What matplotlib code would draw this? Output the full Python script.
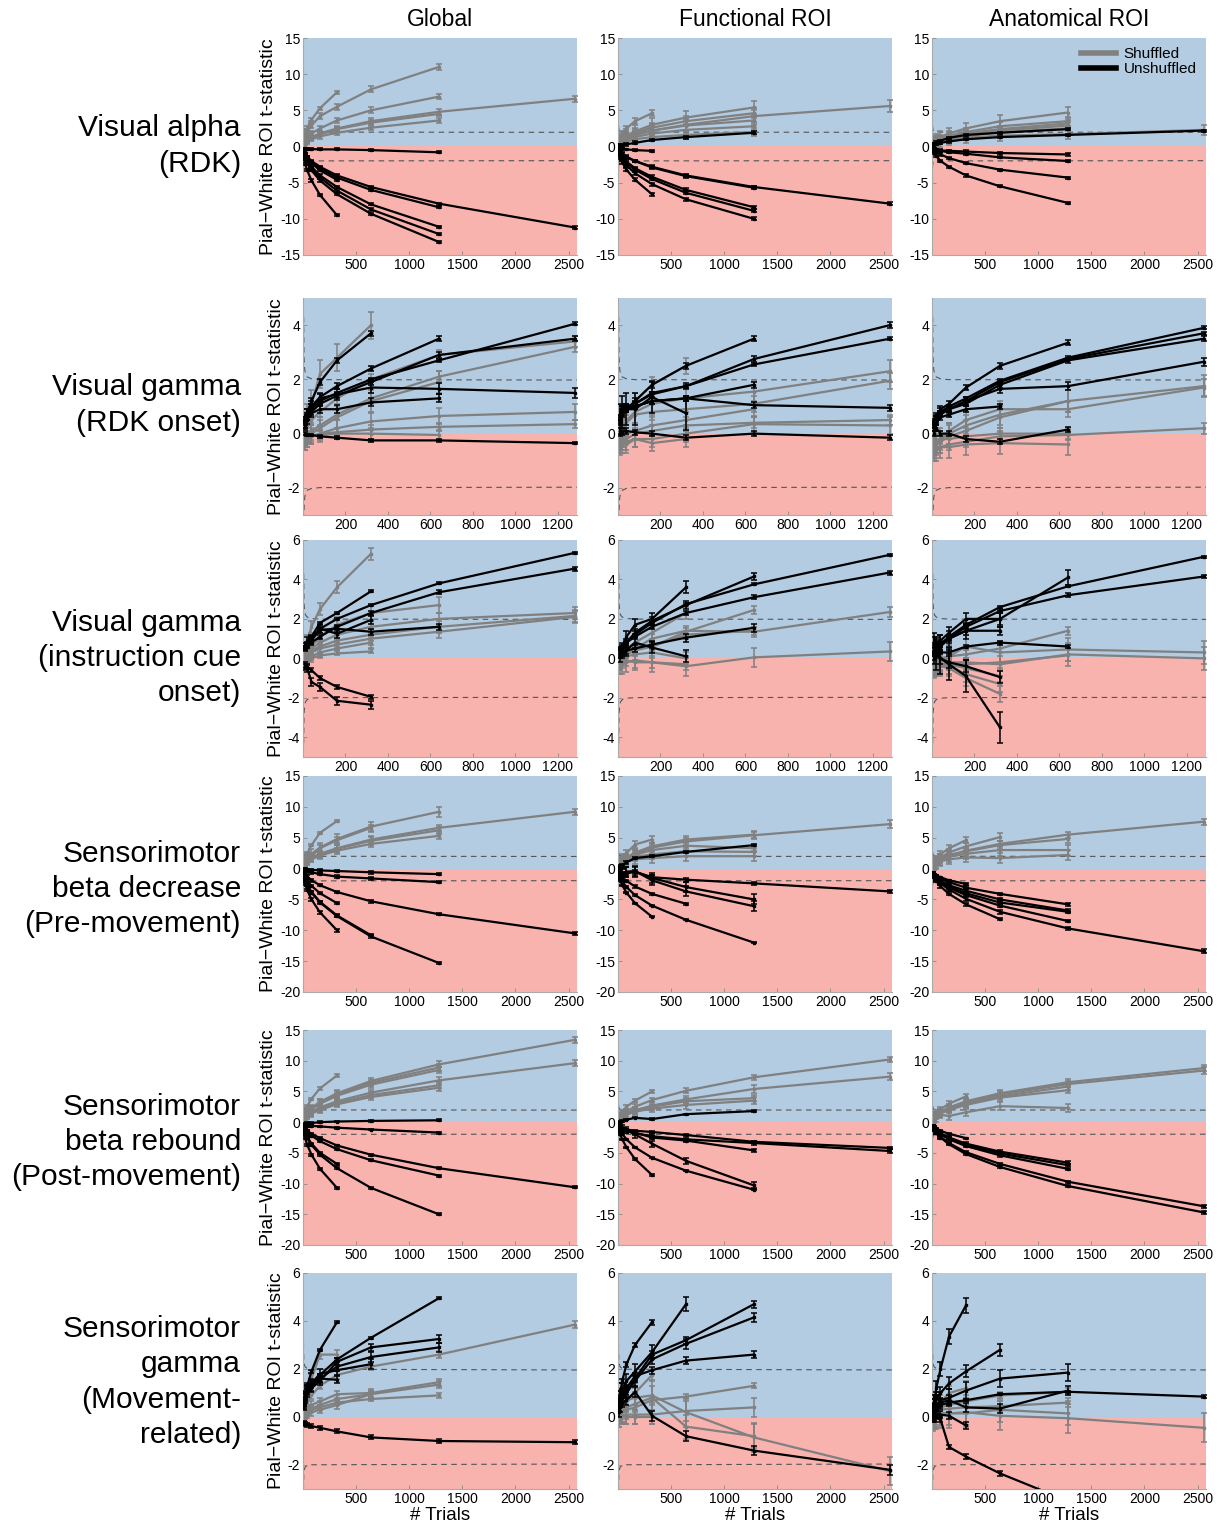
import matplotlib.pyplot as plt
from matplotlib.lines import Line2D

# trial counts used for every curve (a curve stops where its list ends)
TRIALS = [10, 20, 40, 80, 160, 320, 640, 1280, 2560]

# critical t threshold (dashed)
crit_n = [3, 5, 8, 12, 20, 40, 80, 2600]
crit_t = [4.30, 2.78, 2.36, 2.20, 2.09, 2.02, 1.99, 1.96]

row_labels = ["Visual alpha\n(RDK)", "Visual gamma\n(RDK onset)",
              "Visual gamma\n(instruction cue\nonset)",
              "Sensorimotor\nbeta decrease\n(Pre-movement)",
              "Sensorimotor\nbeta rebound\n(Post-movement)",
              "Sensorimotor\ngamma\n(Movement-\nrelated)"]
col_titles = ["Global", "Functional ROI", "Anatomical ROI"]

row_ylim = [(-15, 15), (-3, 5), (-5, 6), (-20, 15), (-20, 15), (-3, 6)]
row_yticks = [[-15, -10, -5, 0, 5, 10, 15], [-2, 0, 2, 4], [-4, -2, 0, 2, 4, 6],
              [-20, -15, -10, -5, 0, 5, 10, 15], [-20, -15, -10, -5, 0, 5, 10, 15],
              [-2, 0, 2, 4, 6]]
row_xmax = [2580, 1290, 1290, 2580, 2580, 2580]
row_xticks = [[500, 1000, 1500, 2000, 2500], [200, 400, 600, 800, 1000, 1200],
              [200, 400, 600, 800, 1000, 1200], [500, 1000, 1500, 2000, 2500],
              [500, 1000, 1500, 2000, 2500], [500, 1000, 1500, 2000, 2500]]

# ---- Visual alpha (RDK)
p11_gray = [[1.2, 1.8, 2.6, 3.7, 5.3, 7.5],
            [1.0, 1.4, 2.0, 2.9, 4.2, 5.5, 7.9, 11.0],
            [0.6, 0.9, 1.2, 1.8, 2.5, 3.6, 5.0, 6.9],
            [0.4, 0.6, 0.9, 1.3, 1.8, 2.5, 3.5, 4.8, 6.6],
            [0.4, 0.6, 0.9, 1.2, 1.7, 2.4, 3.3, 4.5],
            [0.3, 0.5, 0.7, 1.0, 1.4, 1.9, 2.6, 3.6],
            [0.3, 0.5, 0.8, 1.2, 1.7, 2.4]]
p11_gray_err = [0.2, 0.4, 0.4, 0.4, 0.3, 0.3, 0.3]
p11_black = [[-0.3, -0.3, -0.35, -0.35, -0.4, -0.4, -0.5, -0.8],
             [-1.7, -2.4, -3.3, -4.7, -6.7, -9.5],
             [-1.2, -1.6, -2.3, -3.3, -4.7, -6.6, -9.3, -13.2],
             [-1.1, -1.5, -2.1, -3.0, -4.3, -6.1, -8.7, -12.1],
             [-1.0, -1.4, -2.0, -2.8, -4.0, -5.6, -8.0, -11.1],
             [-0.8, -1.1, -1.5, -2.1, -3.0, -4.3, -6.0, -8.4],
             [-0.7, -1.0, -1.4, -2.0, -2.8, -4.0, -5.6, -7.9, -11.2],
             [-0.8, -1.1, -1.6, -2.3, -3.3, -4.6]]
p11_black_err = [0.15, 0.15, 0.15, 0.15, 0.15, 0.15, 0.15, 0.15]

p12_gray = [[0.8, 1.2, 1.7, 2.5, 3.5, 4.6],
            [0.4, 0.6, 0.8, 1.1, 1.6, 2.2, 3.0, 4.2, 5.6],
            [0.5, 0.8, 1.1, 1.5, 2.1, 3.0, 4.0, 5.4],
            [0.5, 0.7, 0.9, 1.3, 1.8, 2.6, 3.5, 4.6],
            [0.4, 0.6, 0.8, 1.1, 1.6, 2.2, 2.9, 3.6],
            [0.3, 0.5, 0.7, 0.9, 1.3, 1.8, 2.3, 2.8],
            [0.3, 0.4, 0.5, 0.7, 1.0, 1.3, 1.6, 2.0],
            [0.4, 0.6, 0.9, 1.3, 1.8, 2.7]]
p12_gray_err = [0.4, 0.8, 0.9, 0.7, 0.6, 0.5, 0.5, 0.4]
p12_black = [[0.1, 0.15, 0.2, 0.3, 0.5, 0.9, 1.3, 1.9],
             [-0.2, -0.25, -0.3, -0.4, -0.5, -0.6],
             [-1.0, -1.5, -2.2, -3.2, -4.6, -6.6],
             [-0.9, -1.3, -1.8, -2.6, -3.7, -5.2, -7.3, -10.0],
             [-0.8, -1.1, -1.6, -2.3, -3.2, -4.5, -6.4, -8.9],
             [-0.7, -1.0, -1.5, -2.1, -3.0, -4.2, -6.0, -8.4],
             [-0.5, -0.7, -1.0, -1.4, -2.0, -2.8, -4.0, -5.6, -7.9],
             [-0.6, -0.8, -1.1, -1.5, -2.0, -2.9, -4.1, -5.7]]
p12_black_err = [0.2, 0.1, 0.2, 0.2, 0.2, 0.2, 0.2, 0.2]

p13_gray = [[0.4, 0.6, 0.9, 1.3, 1.8, 2.5, 3.5, 4.7],
            [0.4, 0.5, 0.8, 1.0, 1.5, 2.0, 2.8, 3.5],
            [0.3, 0.5, 0.7, 0.9, 1.3, 1.8, 2.4, 3.2],
            [0.3, 0.4, 0.6, 0.8, 1.2, 1.6, 2.2, 2.9],
            [0.2, 0.4, 0.5, 0.7, 1.0, 1.4, 2.0, 2.5],
            [0.3, 0.4, 0.5, 0.7, 0.9, 1.2, 1.5, 1.7, 2.3]]
p13_gray_err = [0.8, 0.6, 0.5, 0.5, 0.4, 0.7]
p13_black = [[0.2, 0.3, 0.4, 0.5, 0.7, 1.0, 1.3, 1.6, 2.2],
             [0.3, 0.4, 0.6, 0.8, 1.2, 1.6, 1.9, 2.4],
             [-0.3, -0.4, -0.5, -0.55, -0.6, -0.7, -0.9, -1.1],
             [-0.3, -0.4, -0.5, -0.6, -0.8, -1.0, -1.5, -2.0],
             [-0.4, -0.5, -0.7, -1.1, -1.6, -2.3, -3.2, -4.3],
             [-0.6, -0.9, -1.3, -2.0, -2.8, -4.0, -5.5, -7.8]]
p13_black_err = [0.15, 0.15, 0.15, 0.15, 0.15, 0.15]

# ---- Visual gamma (RDK onset)
p21_gray = [[0.3, 0.6, 1.1, 2.2, 2.8, 4.0],
            [0.1, 0.3, 0.5, 0.8, 1.3, 2.0, 2.9, 3.4],
            [-0.2, -0.1, 0.1, 0.3, 0.7, 1.3, 2.1, 3.2],
            [-0.2, -0.1, 0.0, 0.2, 0.6, 1.2, 1.9],
            [-0.3, -0.2, -0.1, 0.0, 0.2, 0.45, 0.65, 0.8],
            [-0.3, -0.2, -0.1, 0.0, 0.05, 0.15, 0.25, 0.35],
            [-0.2, -0.15, -0.1, -0.05, 0.0, 0.0, -0.05]]
p21_gray_err = [0.5, 0.2, 0.2, 0.4, 0.3, 0.15, 0.2]
p21_black = [[0.4, 0.8, 1.2, 1.9, 2.7, 3.7],
             [0.5, 0.8, 1.0, 1.35, 1.75, 2.4, 3.5],
             [0.5, 0.7, 0.9, 1.2, 1.5, 2.0, 2.7, 4.05],
             [0.3, 0.6, 0.8, 1.1, 1.4, 1.9, 2.9, 3.5],
             [0.4, 0.7, 1.0, 1.3, 1.45, 1.7, 1.65, 1.5],
             [0.3, 0.5, 0.75, 0.9, 0.9, 1.15, 1.3],
             [0.0, -0.05, -0.05, -0.1, -0.15, -0.25, -0.25, -0.35]]
p21_black_err = [0.1, 0.1, 0.05, 0.1, 0.2, 0.15, 0.05]

p22_gray = [[0.1, 0.4, 0.8, 1.2, 1.8, 2.5],
            [-0.2, 0.2, 0.5, 0.8, 1.1, 1.3, 1.55, 2.3],
            [-0.3, 0.0, 0.4, 0.7, 0.8, 0.9, 1.1, 1.95],
            [-0.3, -0.2, 0.0, 0.1, 0.3, 0.5, 0.9],
            [-0.4, -0.3, -0.2, 0.0, 0.1, 0.3, 0.4, 0.5],
            [-0.4, -0.3, -0.3, -0.2, -0.2, 0.0, 0.35, 0.3],
            [-0.5, -0.4, -0.4, -0.2, -0.35, -0.2]]
p22_gray_err = [0.3, 0.4, 0.3, 0.3, 0.2, 0.3, 0.3]
p22_black = [[0.4, 0.7, 0.9, 1.2, 1.8, 2.5, 3.5],
             [0.6, 0.9, 1.0, 1.1, 1.45, 1.75, 2.75, 4.0],
             [0.5, 0.8, 0.9, 1.1, 1.5, 1.75, 2.55, 3.5],
             [0.5, 0.8, 0.9, 1.0, 1.2, 1.3, 1.8],
             [0.6, 0.9, 1.0, 1.0, 1.2, 1.3, 1.05, 0.95],
             [0.5, 0.8, 0.9, 0.9, 1.35, 0.75],
             [0.1, 0.05, 0.1, 0.05, 0.0, -0.15, 0.0, -0.15]]
p22_black_err = [0.1, 0.1, 0.05, 0.1, 0.1, 0.6, 0.1]

p23_gray = [[-0.4, -0.3, -0.2, 0.0, 0.3, 0.7, 1.2, 1.75],
            [-0.5, -0.4, -0.2, 0.1, 0.5, 0.9, 0.9, 1.7],
            [-0.5, -0.4, -0.3, -0.1, 0.1, 0.6, 1.2],
            [-0.6, -0.5, -0.5, -0.4, -0.3, -0.1, -0.05, 0.2],
            [-0.6, -0.6, -0.5, -0.5, -0.4, -0.35, -0.4],
            [-0.3, -0.3, -0.2, -0.2, -0.1, 0.0, 0.0]]
p23_gray_err = [0.4, 0.3, 0.4, 0.2, 0.4, 0.2]
p23_black = [[0.3, 0.6, 0.9, 1.1, 1.7, 2.5, 3.35],
             [0.4, 0.6, 0.8, 1.0, 1.3, 1.95, 2.8, 3.9],
             [0.4, 0.6, 0.8, 0.9, 1.2, 1.9, 2.75, 3.7],
             [0.3, 0.5, 0.7, 0.9, 1.1, 1.8, 2.7, 3.5],
             [0.4, 0.6, 0.8, 0.9, 1.2, 1.65, 1.75, 2.65],
             [0.2, 0.4, 0.6, 0.7, 0.9, 1.0],
             [0.0, 0.2, 0.0, 0.0, -0.2, -0.3, 0.15]]
p23_black_err = [0.1, 0.05, 0.05, 0.1, 0.15, 0.1, 0.1]

# ---- Visual gamma (instruction cue onset)
p31_gray = [[0.5, 0.9, 1.6, 2.5, 3.6, 5.3],
            [0.0, 0.2, 0.6, 1.1, 1.7, 2.3, 2.7],
            [-0.1, 0.2, 0.5, 0.8, 1.2, 1.6, 2.0, 2.3],
            [-0.1, 0.1, 0.4, 0.6, 0.9, 1.2, 1.6, 2.15],
            [-0.2, 0.0, 0.3, 0.5, 0.7, 1.0, 1.35, 2.1],
            [-0.2, 0.0, 0.1, 0.3, 0.5, 0.8],
            [-0.2, -0.1, 0.0, 0.15, 0.25, 0.35]]
p31_gray_err = [0.3, 0.4, 0.3, 0.3, 0.3, 0.3, 0.1]
p31_black = [[0.5, 0.7, 1.1, 1.8, 2.3, 3.4],
             [0.6, 0.7, 1.0, 1.5, 2.0, 2.7, 3.8, 5.35],
             [0.5, 0.6, 0.8, 1.1, 1.6, 2.3, 3.35, 4.55],
             [0.6, 0.9, 1.0, 1.5, 1.25, 1.95],
             [0.5, 0.7, 0.9, 1.45, 1.5, 1.35, 1.6],
             [-0.4, -0.45, -0.6, -1.0, -1.45, -1.95],
             [-0.4, -0.5, -1.2, -1.45, -2.15, -2.35]]
p31_black_err = [0.05, 0.05, 0.1, 0.2, 0.15, 0.1, 0.2]

p32_gray = [[0.0, 0.3, 0.5, 0.8, 1.3, 2.3],
            [0.0, 0.1, 0.3, 0.5, 0.6, 1.35, 2.45],
            [0.1, 0.2, 0.3, 0.5, 1.0, 1.4, 1.35, 2.35],
            [0.0, 0.1, 0.2, 0.4, 0.6, 1.2, 1.4],
            [-0.3, -0.3, -0.2, -0.1, -0.2, -0.4, 0.05, 0.35],
            [-0.3, -0.2, -0.1, -0.2, -0.2, -0.3],
            [-0.1, 0.0, 0.1, 0.2, 0.3, 0.0]]
p32_gray_err = [0.3, 0.2, 0.25, 0.2, 0.5, 0.3, 0.3]
p32_black = [[0.3, 0.5, 1.1, 1.7, 2.0, 3.6],
             [0.3, 0.5, 0.8, 1.3, 1.9, 2.7, 4.15],
             [0.4, 0.6, 0.8, 1.2, 1.8, 2.75, 3.75, 5.25],
             [0.3, 0.5, 0.8, 1.1, 1.6, 2.3, 3.1, 4.35],
             [0.2, 0.3, 0.4, 0.5, 0.7, 1.05, 1.55],
             [0.1, 0.3, 0.4, 0.8, 0.55, 0.1]]
p32_black_err = [0.3, 0.2, 0.05, 0.1, 0.2, 0.3]

p33_gray = [[-0.2, -0.1, 0.0, 0.1, 0.2, 0.5, 1.4],
            [-0.3, -0.2, -0.1, 0.1, 0.6, 0.3, 0.45, 0.3],
            [-0.4, -0.3, -0.3, -0.2, -0.2, -0.3, 0.2, 0.0],
            [-0.3, -0.3, -0.3, -0.4, -0.8, -1.3],
            [-0.3, -0.3, -0.4, -0.5, -1.0, -1.8],
            [-0.2, -0.2, -0.3, -0.3, -0.5, -0.9],
            [-0.4, -0.4, -0.3, -0.3, -0.3, -0.2, 0.15]]
p33_gray_err = [0.2, 0.6, 0.6, 0.4, 0.4, 0.3, 0.3]
p33_black = [[0.3, 0.5, 0.7, 1.1, 1.7, 2.6, 3.65, 5.15],
             [0.2, 0.4, 0.7, 1.0, 1.6, 2.4, 3.2, 4.15],
             [0.3, 0.5, 0.8, 1.0, 1.4, 2.0, 4.1],
             [0.5, 0.8, 0.9, 1.3, 2.0, 2.0],
             [0.4, 0.5, 0.6, 1.0, 1.4, 1.4],
             [0.2, 0.2, 0.3, 0.3, 0.6, 0.8, 0.6],
             [0.8, 0.3, 0.0, -0.2, -0.4, -0.95],
             [0.5, 0.2, 0.0, -0.3, -0.9, -3.5]]
p33_black_err = [0.05, 0.1, 0.4, 0.3, 0.2, 0.1, 0.3, 0.8]

# ---- Sensorimotor beta decrease (Pre-movement)
p41_gray = [[1.0, 1.6, 2.5, 3.8, 5.8, 7.7],
            [0.8, 1.2, 1.7, 2.4, 3.4, 4.8, 6.8, 9.2],
            [0.6, 0.9, 1.3, 1.8, 2.4, 3.3, 4.7, 6.6, 9.2],
            [0.6, 0.9, 1.3, 1.7, 2.3, 3.2, 4.5, 6.2],
            [0.5, 0.8, 1.1, 1.5, 2.1, 2.9, 4.0, 5.3],
            [0.7, 1.0, 1.4, 2.0, 3.3, 4.6, 6.6]]
p41_gray_err = [0.2, 0.8, 0.5, 0.6, 0.5, 0.5]
p41_black = [[-0.1, -0.15, -0.2, -0.2, -0.3, -0.4, -0.6, -0.9],
             [-0.2, -0.3, -0.4, -0.6, -0.9, -1.3, -1.6, -2.2],
             [-0.9, -1.3, -2.0, -2.8, -4.0, -5.6],
             [-1.7, -2.5, -3.5, -5.0, -7.1, -10.0],
             [-1.3, -1.9, -2.7, -3.9, -5.5, -7.7, -11.0, -15.3],
             [-1.3, -1.9, -2.7, -3.8, -5.4, -7.6, -10.8],
             [-0.7, -0.9, -1.3, -1.9, -2.7, -3.8, -5.3, -7.4, -10.5]]
p41_black_err = [0.2, 0.2, 0.2, 0.2, 0.2, 0.2, 0.2]

p42_gray = [[0.8, 1.2, 1.8, 2.5, 3.9, 4.7],
            [0.6, 0.8, 1.2, 1.7, 2.4, 3.4, 4.4, 5.4, 7.2],
            [0.6, 0.9, 1.3, 1.8, 2.6, 3.6, 4.7, 5.5],
            [0.5, 0.8, 1.1, 1.6, 2.2, 3.0, 3.7, 3.3],
            [0.4, 0.7, 1.0, 1.3, 1.9, 2.3, 2.8, 2.7],
            [0.3, 0.5, 0.8, 1.1, 1.5, 1.7, 2.0, 2.0]]
p42_gray_err = [0.5, 0.6, 0.6, 0.6, 0.7, 0.8]
p42_black = [[0.2, 0.4, 0.6, 1.0, 1.7, 2.0, 2.7, 3.8],
             [-0.9, -1.0, -1.0, -0.8, -0.5, -1.4, -1.8, -2.4, -3.7],
             [-1.0, -0.9, -0.8, -0.6, -0.5, -1.5, -3.0, -5.0],
             [-1.1, -0.9, -0.7, -0.5, -0.4, -1.9, -3.7, -6.1],
             [-0.8, -1.0, -1.4, -2.0, -2.9, -4.1, -5.7],
             [-1.2, -1.9, -2.7, -3.9, -5.6, -7.8],
             [-0.9, -1.5, -2.1, -3.0, -4.3, -6.0, -8.3, -12.0]]
p42_black_err = [0.2, 0.3, 0.8, 0.8, 0.2, 0.1, 0.1]

p43_gray = [[0.5, 0.7, 1.0, 1.5, 2.1, 2.9, 4.0, 5.5, 7.6],
            [0.6, 0.9, 1.3, 1.8, 2.6, 3.6, 5.1],
            [0.8, 1.2, 1.6, 2.3, 3.3, 4.6],
            [0.5, 0.8, 1.2, 1.6, 2.2, 2.8, 3.8, 4.8],
            [0.4, 0.7, 1.0, 1.4, 1.9, 2.4, 3.0, 3.0],
            [0.3, 0.5, 0.8, 1.2, 1.5, 1.8, 1.7, 2.2]]
p43_gray_err = [0.5, 0.6, 0.5, 0.7, 0.9, 0.8]
p43_black = [[-0.7, -0.9, -1.1, -1.4, -1.9, -2.5],
             [-0.8, -1.0, -1.3, -1.7, -2.2, -3.1, -4.1, -5.8],
             [-0.8, -1.1, -1.5, -2.0, -2.7, -3.6, -5.0, -6.8],
             [-0.9, -1.2, -1.6, -2.1, -2.9, -4.0, -5.5, -7.0],
             [-0.9, -1.2, -1.7, -2.3, -3.1, -4.3, -6.0, -8.5],
             [-1.0, -1.4, -2.0, -2.9, -4.1, -5.8, -8.2],
             [-0.9, -1.2, -1.7, -2.4, -3.4, -4.9, -7.0, -9.7, -13.4]]
p43_black_err = [0.1, 0.2, 0.3, 0.2, 0.2, 0.2, 0.3]

# ---- Sensorimotor beta rebound (Post-movement)
p51_gray = [[1.1, 1.7, 2.6, 3.8, 5.5, 7.6],
            [0.8, 1.1, 1.6, 2.3, 3.3, 4.7, 6.7, 9.4, 13.4],
            [0.7, 1.0, 1.5, 2.2, 3.2, 4.5, 6.4, 8.9],
            [0.7, 1.0, 1.4, 2.1, 3.0, 4.3, 6.1, 8.5],
            [0.6, 0.8, 1.2, 1.7, 2.4, 3.4, 4.8, 6.8, 9.6],
            [0.5, 0.7, 1.1, 1.5, 2.2, 3.1, 4.4, 6.0],
            [0.5, 0.7, 1.0, 1.4, 2.0, 2.9, 4.1, 5.6]]
p51_gray_err = [0.2, 0.5, 0.5, 0.5, 0.5, 0.5, 0.5]
p51_black = [[-0.4, -0.3, -0.2, -0.15, 0.0, 0.1, 0.2, 0.3],
             [-0.6, -0.6, -0.6, -0.6, -0.7, -0.9, -1.2, -1.7],
             [-1.2, -1.7, -2.4, -3.5, -5.0, -6.8],
             [-1.9, -2.6, -3.7, -5.3, -7.6, -10.7],
             [-1.3, -1.9, -2.6, -3.7, -5.3, -7.5, -10.7, -15.0],
             [-0.8, -1.1, -1.5, -2.2, -3.1, -4.4, -6.2, -8.7],
             [-0.7, -1.0, -1.4, -1.9, -2.6, -3.8, -5.3, -7.5, -10.6]]
p51_black_err = [0.15, 0.15, 0.15, 0.15, 0.15, 0.15, 0.15]

p52_gray = [[0.9, 1.2, 1.7, 2.5, 3.5, 5.0],
            [0.5, 0.7, 1.2, 1.8, 2.5, 3.6, 5.1, 7.3, 10.2],
            [0.4, 0.6, 0.9, 1.3, 1.9, 2.7, 3.7, 5.4, 7.4],
            [0.4, 0.7, 1.0, 1.4, 2.0, 2.5, 3.4, 3.9],
            [0.3, 0.5, 0.8, 1.2, 1.7, 2.2, 2.8, 3.5]]
p52_gray_err = [0.3, 0.4, 0.6, 0.5, 0.6]
p52_black = [[0.0, 0.1, 0.2, 0.4, 0.7, 0.5, 1.3, 1.8],
             [-0.6, -0.8, -1.0, -1.2, -1.4, -1.6, -2.1, -3.2, -4.2],
             [-0.8, -1.0, -1.2, -1.4, -1.8, -2.3, -2.8, -3.4, -4.7],
             [-0.7, -1.0, -1.3, -1.5, -1.7, -2.5, -3.0, -4.6],
             [-0.5, -0.8, -1.0, -1.3, -2.0, -3.5, -6.3, -10.3],
             [-0.9, -1.3, -1.9, -2.8, -4.1, -5.8, -7.9, -11.0],
             [-1.4, -2.0, -2.8, -4.1, -6.0, -8.6]]
p52_black_err = [0.1, 0.1, 0.3, 0.3, 0.5, 0.1, 0.1]

p53_gray = [[0.6, 0.8, 1.2, 1.7, 2.4, 3.4, 4.7, 6.5, 8.8],
            [0.6, 0.8, 1.1, 1.6, 2.3, 3.2, 4.5, 6.2, 8.4],
            [0.5, 0.8, 1.1, 1.5, 2.1, 3.0, 4.2, 5.8],
            [0.5, 0.7, 1.0, 1.4, 2.0, 2.8, 4.0, 5.2],
            [0.7, 1.0, 1.5, 2.1, 3.0, 4.2],
            [0.3, 0.5, 0.7, 1.2, 1.0, 1.6, 2.6, 2.3]]
p53_gray_err = [0.5, 0.5, 0.5, 0.5, 0.4, 0.6]
p53_black = [[-0.6, -0.8, -1.0, -1.4, -1.9, -2.6],
             [-0.7, -0.9, -1.3, -1.8, -2.5, -3.5, -4.8, -6.6],
             [-0.7, -1.0, -1.3, -1.9, -2.6, -3.7, -5.1, -7.0],
             [-0.8, -1.0, -1.4, -2.0, -2.8, -3.9, -5.4, -7.6],
             [-0.8, -1.2, -1.7, -2.4, -3.4, -4.9, -6.8, -9.7, -13.7],
             [-0.9, -1.3, -1.8, -2.5, -3.6, -5.2, -7.3, -10.4, -14.7]]
p53_black_err = [0.1, 0.2, 0.2, 0.2, 0.2, 0.2]

# ---- Sensorimotor gamma (Movement-related)
p61_gray = [[0.2, 0.4, 0.6, 0.9, 1.3, 1.75, 2.1, 2.6, 3.85],
            [0.3, 0.6, 1.0, 1.6, 2.6, 2.6],
            [0.1, 0.2, 0.35, 0.5, 0.65, 0.95, 1.0, 1.45],
            [0.1, 0.15, 0.25, 0.35, 0.5, 0.75, 0.95, 1.35],
            [0.0, 0.1, 0.2, 0.3, 0.4, 0.6, 0.75, 0.9],
            [0.0, 0.05, 0.1, 0.2, 0.3, 0.5, 0.95]]
p61_gray_err = [0.15, 0.2, 0.15, 0.15, 0.1, 0.15]
p61_black = [[0.5, 0.9, 1.3, 1.9, 2.8, 3.95],
             [0.6, 0.9, 1.1, 1.3, 1.75, 2.4, 3.3, 4.95],
             [0.5, 0.8, 1.0, 1.2, 1.5, 2.3, 2.9, 3.25],
             [0.5, 0.8, 1.1, 1.3, 1.6, 2.1, 2.5, 2.9],
             [0.6, 0.9, 1.2, 1.4, 1.8, 1.95, 2.2],
             [0.6, 0.9, 1.2, 1.4, 1.6, 1.55],
             [-0.25, -0.28, -0.32, -0.38, -0.45, -0.6, -0.85, -1.0, -1.05]]
p61_black_err = [0.05, 0.05, 0.15, 0.2, 0.2, 0.15, 0.08]

p62_gray = [[0.1, 0.2, 0.3, 0.6, 1.0, 1.75],
            [0.1, 0.2, 0.3, 0.3, 0.4, 0.7, 0.85, 1.3],
            [0.1, 0.1, 0.1, 0.1, 0.1, 0.1, 0.25, 0.4],
            [0.2, 0.4, 0.6, 0.7, 0.8, 0.9, 0.2, -0.85, -2.25],
            [0.1, 0.2, 0.3, 0.4, 0.55, 0.8, -0.4, -0.8],
            [0.0, 0.1, 0.1, 0.0, 0.0, 0.0]]
p62_gray_err = [0.2, 0.1, 0.4, 0.6, 0.5, 0.3]
p62_black = [[0.6, 1.0, 1.5, 2.2, 3.0, 3.95],
             [0.5, 0.8, 1.1, 1.5, 1.9, 2.7, 4.7],
             [0.4, 0.6, 0.8, 1.0, 1.6, 2.6, 3.2, 4.7],
             [0.4, 0.6, 0.8, 1.0, 1.5, 2.4, 3.05, 4.15],
             [0.4, 0.7, 1.0, 1.2, 1.7, 1.95, 2.35, 2.6],
             [0.2, 0.4, 0.6, 0.7, 1.05, 0.05, -0.8, -1.4, -2.2]]
p62_black_err = [0.1, 0.3, 0.15, 0.2, 0.15, 0.2]

p63_gray = [[0.1, 0.3, 0.5, 0.6, 1.0, 1.2],
            [0.1, 0.2, 0.3, 0.4, 0.5, 0.65, 0.9, 1.05],
            [0.0, 0.1, 0.2, 0.3, 0.35, 0.4, 0.45, 0.6],
            [0.0, 0.1, 0.1, 0.15, 0.15, 0.2, 0.05, -0.05, -0.45],
            [0.0, 0.1, 0.1, 0.15, 0.15, 0.15, 0.3, 0.15]]
p63_gray_err = [0.3, 0.15, 0.2, 0.6, 0.5]
p63_black = [[0.3, 0.6, 1.2, 2.0, 3.35, 4.65],
             [0.3, 0.5, 0.8, 1.0, 1.4, 1.9, 2.8],
             [0.2, 0.4, 0.5, 0.7, 0.8, 1.1, 1.6, 1.85],
             [0.1, 0.2, 0.3, 0.5, 0.6, 0.7, 0.95, 1.05, 0.85],
             [0.2, 0.3, 0.5, 0.6, 0.7, 0.4, 0.35, 1.1],
             [0.0, 0.0, 0.1, 0.1, 0.05, -0.35],
             [-0.1, -0.1, 0.0, -0.1, -1.25, -1.65, -2.35, -3.5]]
p63_black_err = [0.3, 0.25, 0.35, 0.05, 0.2, 0.15, 0.1]

panels = [
    [(p11_gray, p11_gray_err, p11_black, p11_black_err),
     (p12_gray, p12_gray_err, p12_black, p12_black_err),
     (p13_gray, p13_gray_err, p13_black, p13_black_err)],
    [(p21_gray, p21_gray_err, p21_black, p21_black_err),
     (p22_gray, p22_gray_err, p22_black, p22_black_err),
     (p23_gray, p23_gray_err, p23_black, p23_black_err)],
    [(p31_gray, p31_gray_err, p31_black, p31_black_err),
     (p32_gray, p32_gray_err, p32_black, p32_black_err),
     (p33_gray, p33_gray_err, p33_black, p33_black_err)],
    [(p41_gray, p41_gray_err, p41_black, p41_black_err),
     (p42_gray, p42_gray_err, p42_black, p42_black_err),
     (p43_gray, p43_gray_err, p43_black, p43_black_err)],
    [(p51_gray, p51_gray_err, p51_black, p51_black_err),
     (p52_gray, p52_gray_err, p52_black, p52_black_err),
     (p53_gray, p53_gray_err, p53_black, p53_black_err)],
    [(p61_gray, p61_gray_err, p61_black, p61_black_err),
     (p62_gray, p62_gray_err, p62_black, p62_black_err),
     (p63_gray, p63_gray_err, p63_black, p63_black_err)],
]

plt.rcParams['font.family'] = ['Liberation Sans', 'DejaVu Sans']
plt.rcParams['axes.unicode_minus'] = False

BLUE = "#b3cce2"
PINK = "#f9b3ae"
GRAY = "#808080"

W, H = 1223, 1526
fig = plt.figure(figsize=(W / 100, H / 100), dpi=100)

col_left = [303, 618, 932]
ax_w = 274
row_span = [(38, 255), (298, 515), (540, 757), (776, 992), (1030, 1245), (1273, 1489)]
label_y = [146, 405, 658, 889, 1142, 1382]

for r in range(6):
    top, bot = row_span[r]
    ymin, ymax = row_ylim[r]
    for c in range(3):
        ax = fig.add_axes([col_left[c] / W, 1 - bot / H, ax_w / W, (bot - top) / H])
        ax.axhspan(0, ymax, color=BLUE, lw=0, zorder=0)
        ax.axhspan(ymin, 0, color=PINK, lw=0, zorder=0)
        ax.plot(crit_n, crit_t, ls=(0, (5, 4)), color="#555555", lw=0.8, zorder=1)
        ax.plot(crit_n, [-v for v in crit_t], ls=(0, (5, 4)), color="#555555", lw=0.8, zorder=1)

        gray, gray_err, black, black_err = panels[r][c]
        for ys, e in zip(gray, gray_err):
            ax.errorbar(TRIALS[:len(ys)], ys, yerr=e, color=GRAY, lw=1.6,
                        elinewidth=1.1, capsize=2, capthick=1.1,
                        marker="s", ms=2, zorder=2)
        for ys, e in zip(black, black_err):
            ax.errorbar(TRIALS[:len(ys)], ys, yerr=e, color="black", lw=1.6,
                        elinewidth=1.1, capsize=2, capthick=1.1,
                        marker="s", ms=2, zorder=3)

        ax.set_xlim(0, row_xmax[r])
        ax.set_ylim(ymin, ymax)
        ax.set_xticks(row_xticks[r])
        ax.set_yticks(row_yticks[r])
        ax.tick_params(labelsize=10, length=3, width=0.6, color="#888888",
                       direction="in", pad=2)
        for s in ["top", "right"]:
            ax.spines[s].set_visible(False)
        for s in ["left", "bottom"]:
            ax.spines[s].set_color("#aaaaaa")
            ax.spines[s].set_linewidth(0.8)

        if c == 0:
            ax.set_ylabel("Pial\u2212White ROI t-statistic", fontsize=14, labelpad=2)
        if r == 5:
            ax.set_xlabel("# Trials", fontsize=13.5, labelpad=1)
        if r == 0 and c == 2:
            handles = [Line2D([], [], color=GRAY, lw=4), Line2D([], [], color="black", lw=4)]
            ax.legend(handles, ["Shuffled", "Unshuffled"], loc="upper right",
                      frameon=False, fontsize=11, handlelength=2.3,
                      handletextpad=0.5, labelspacing=0.05,
                      borderaxespad=0.2)
        if r == 0:
            fig.text((col_left[c] + ax_w / 2) / W, 1 - 20 / H, col_titles[c],
                     ha="center", va="center", fontsize=16.5)

    fig.text(241 / W, 1 - label_y[r] / H, row_labels[r], ha="right",
             va="center", fontsize=21.5, linespacing=1.33)

fig.savefig("out.png", dpi=100)
